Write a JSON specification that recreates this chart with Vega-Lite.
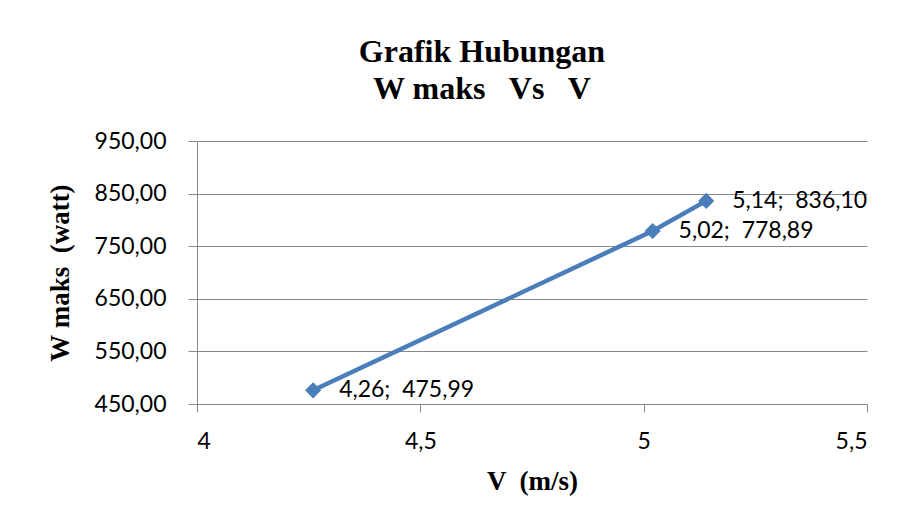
{
  "$schema": "https://vega.github.io/schema/vega-lite/v6.json",
  "autosize": "none",
  "width": 670,
  "height": 263,
  "padding": {"left": 197, "top": 141, "right": 34, "bottom": 113},
  "background": "white",
  "config": {
    "locale": {"number": {"decimal": ",", "thousands": ".", "grouping": [3], "currency": ["", ""]}},
    "view": {"stroke": null}
  },
  "title": {
    "text": ["Grafik Hubungan", "W maks \u00a0 Vs \u00a0 V"],
    "font": "Liberation Serif",
    "fontSize": 32,
    "fontWeight": "bold",
    "color": "black",
    "lineHeight": 37,
    "anchor": "middle",
    "dx": -50,
    "offset": 24
  },
  "data": {
    "values": [
      {"v": 4.26, "w": 475.99, "label": "4,26; \u00a0475,99"},
      {"v": 5.02, "w": 778.89, "label": "5,02; \u00a0778,89"},
      {"v": 5.14, "w": 836.10, "label": "5,14; \u00a0836,10"}
    ]
  },
  "encoding": {
    "x": {
      "field": "v", "type": "quantitative",
      "scale": {"domain": [4, 5.5], "nice": false, "zero": false},
      "axis": {
        "title": "V \u00a0(m/s)", "values": [4, 4.5, 5, 5.5], "format": ".1~f",
        "grid": false, "domainColor": "#888888", "tickColor": "#888888", "tickSize": 8,
        "labelFont": "Lato", "labelFontSize": 23, "labelColor": "black", "labelPadding": 18,
        "titleFont": "Liberation Serif", "titleFontSize": 27, "titleFontWeight": "bold", "titleColor": "black", "titlePadding": 15
      }
    },
    "y": {
      "field": "w", "type": "quantitative",
      "scale": {"domain": [450, 950], "nice": false, "zero": false},
      "axis": {
        "title": "W maks \u00a0(watt)", "values": [450, 550, 650, 750, 850, 950], "format": ".2f",
        "grid": true, "gridColor": "#888888", "domainColor": "#888888", "tickColor": "#888888", "tickSize": 9,
        "labelFont": "Lato", "labelFontSize": 23, "labelColor": "black", "labelPadding": 22,
        "titleFont": "Liberation Serif", "titleFontSize": 27, "titleFontWeight": "bold", "titleColor": "black", "titlePadding": 20
      }
    }
  },
  "layer": [
    {"mark": {"type": "line", "color": "#4a7ebb", "strokeWidth": 4.5}},
    {"mark": {"type": "point", "shape": "diamond", "filled": true, "color": "#4a7ebb", "size": 260, "opacity": 1}},
    {"mark": {"type": "text", "align": "left", "baseline": "middle", "dx": 26, "font": "Lato", "fontSize": 23, "color": "black"},
     "encoding": {"text": {"field": "label"}}}
  ]
}
